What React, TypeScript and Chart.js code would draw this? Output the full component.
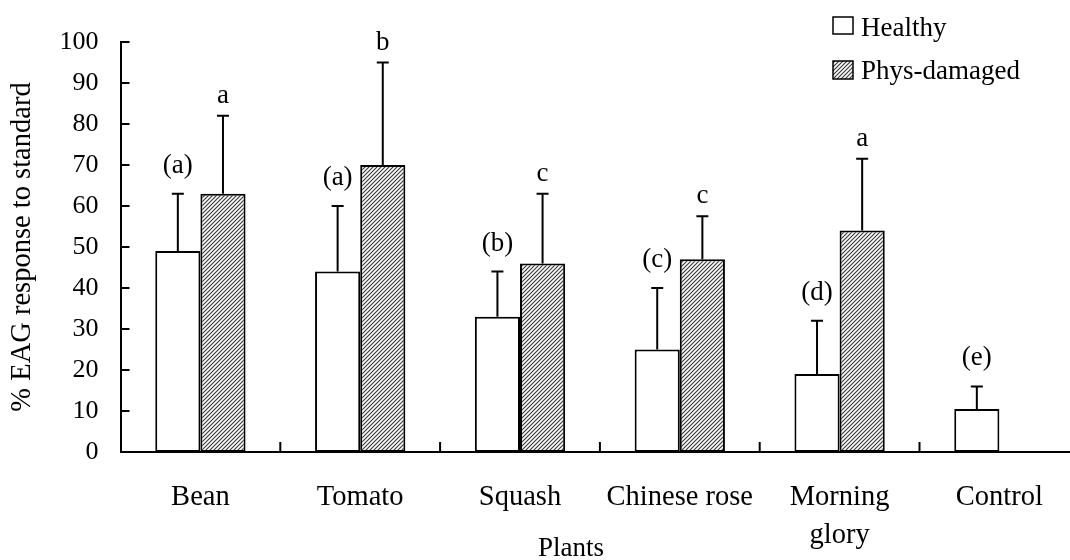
import React, { useEffect, useRef } from "react";
import { Chart, registerables } from "chart.js";

Chart.register(...registerables);

const categories: (string | string[])[] = ["Bean", "Tomato", "Squash", "Chinese rose", ["Morning", "glory"], "Control"];
const seriesNames = ["Healthy", "Phys-damaged"];
const healthy = [49, 44, 33, 25, 19, 10.5];
const healthyErr = [14, 16, 11, 15, 13, 5.5];
const damaged: (number | null)[] = [63, 70, 46, 47, 54, null];
const damagedErr: (number | null)[] = [19, 25, 17, 10.5, 17.5, null];
const healthyLetters = ["(a)", "(a)", "(b)", "(c)", "(d)", "(e)"];
const damagedLetters = ["a", "b", "c", "c", "a", ""];
const yMin = 0;
const yMax = 100;
const yStep = 10;
const yTitle = "% EAG response to standard";
const xTitle = "Plants";

const FONT = '"Liberation Serif", "Times New Roman", Times, serif';

function makeHatch(): CanvasPattern | string {
  const c = document.createElement("canvas");
  c.width = 4;
  c.height = 4;
  const g = c.getContext("2d");
  if (!g) return "#999";
  g.fillStyle = "#ffffff";
  g.fillRect(0, 0, 4, 4);
  g.strokeStyle = "#3a3a3a";
  g.lineWidth = 1.15;
  g.beginPath();
  g.moveTo(-1, 5);
  g.lineTo(5, -1);
  g.moveTo(-1, 1);
  g.lineTo(1, -1);
  g.moveTo(3, 5);
  g.lineTo(5, 3);
  g.stroke();
  return g.createPattern(c, "repeat") || "#999";
}

export default function App() {
  const ref = useRef<HTMLCanvasElement | null>(null);

  useEffect(() => {
    const canvas = ref.current;
    if (!canvas) return;
    const hatch = makeHatch();
    const errs = [healthyErr, damagedErr];
    const letters = [healthyLetters, damagedLetters];

    const overlay = {
      id: "overlay",
      afterDatasetsDraw(chart: any) {
        const ctx = chart.ctx as CanvasRenderingContext2D;
        const ys = chart.scales.y;
        ctx.save();
        ctx.strokeStyle = "#000";
        ctx.fillStyle = "#000";
        ctx.lineWidth = 2;
        chart.data.datasets.forEach((ds: any, di: number) => {
          const meta = chart.getDatasetMeta(di);
          meta.data.forEach((el: any, i: number) => {
            const v = ds.data[i];
            const e = errs[di][i];
            if (v == null || e == null) return;
            const yTop = ys.getPixelForValue(v + e);
            ctx.beginPath();
            ctx.moveTo(el.x, el.y);
            ctx.lineTo(el.x, yTop);
            ctx.moveTo(el.x - 6, yTop);
            ctx.lineTo(el.x + 6, yTop);
            ctx.stroke();
            const txt = letters[di][i];
            if (txt) {
              ctx.font = `27px ${FONT}`;
              ctx.textAlign = "center";
              ctx.textBaseline = "alphabetic";
              const off = txt.startsWith("(") ? 21 : 13;
              ctx.fillText(txt, el.x, yTop - off);
            }
          });
        });
        ctx.restore();
      },
      afterDraw(chart: any) {
        const ctx = chart.ctx as CanvasRenderingContext2D;
        const ys = chart.scales.y;
        const xs = chart.scales.x;
        const area = chart.chartArea;
        ctx.save();
        ctx.strokeStyle = "#000";
        ctx.lineWidth = 2;
        ctx.beginPath();
        for (let v = yMin; v <= yMax; v += yStep) {
          const y = Math.round(ys.getPixelForValue(v));
          ctx.moveTo(area.left, y);
          ctx.lineTo(area.left + 9, y);
        }
        for (let i = 1; i < categories.length; i++) {
          const x = (xs.getPixelForValue(i - 1) + xs.getPixelForValue(i)) / 2;
          ctx.moveTo(x, area.bottom);
          ctx.lineTo(x, area.bottom - 10);
        }
        ctx.stroke();
        ctx.fillStyle = "#000";
        ctx.font = `27px ${FONT}`;
        ctx.textAlign = "center";
        ctx.textBaseline = "alphabetic";
        ctx.fillText(xTitle, (area.left + area.right) / 2 - 29, 556);
        ctx.font = `27px ${FONT}`;
        ctx.textAlign = "left";
        const rows = [
          { y: 17, h: 17, base: 36, fill: "#ffffff" as any },
          { y: 61, h: 18, base: 79, fill: hatch as any },
        ];
        rows.forEach((r, i) => {
          ctx.fillStyle = r.fill;
          ctx.fillRect(833, r.y, 20, r.h);
          ctx.lineWidth = 1.5;
          ctx.strokeStyle = "#000";
          ctx.strokeRect(833, r.y, 20, r.h);
          ctx.fillStyle = "#000";
          ctx.fillText(chart.data.datasets[i].label, 861, r.base);
        });
        ctx.restore();
      },
    };

    const chart = new Chart(canvas, {
      type: "bar",
      data: {
        labels: categories as any,
        datasets: [
          {
            label: seriesNames[0],
            data: healthy,
            backgroundColor: "#ffffff",
            borderColor: "#000000",
            borderWidth: 2,
            borderSkipped: false,
          },
          {
            label: seriesNames[1],
            data: damaged,
            backgroundColor: hatch as any,
            borderColor: "#000000",
            borderWidth: 2,
            borderSkipped: false,
          },
        ],
      },
      options: {
        responsive: false,
        animation: false,
        layout: { padding: { left: 0, top: 42, right: 0.7, bottom: 0 } },
        datasets: { bar: { categoryPercentage: 0.565, barPercentage: 1 } },
        plugins: { legend: { display: false }, tooltip: { enabled: false } },
        scales: {
          x: {
            type: "category",
            offset: true,
            grid: { display: false, drawTicks: false },
            border: { display: true, color: "#000", width: 2 },
            ticks: {
              color: "#000",
              font: { family: FONT, size: 28.5, lineHeight: 1.33 },
              padding: 27,
              maxRotation: 0,
              autoSkip: false,
            },
            afterFit: (s: any) => {
              s.height = 108;
            },
          },
          y: {
            min: yMin,
            max: yMax,
            grid: { display: false, drawTicks: false },
            border: { display: true, color: "#000", width: 2 },
            ticks: {
              stepSize: yStep,
              color: "#000",
              font: { family: FONT, size: 26 },
              padding: 22,
            },
            title: {
              display: true,
              text: yTitle,
              color: "#000",
              font: { family: FONT, size: 28.5 },
              padding: { top: 5, bottom: 0 },
            },
            afterFit: (s: any) => {
              s.width = 120.5;
            },
          },
        },
      },
      plugins: [overlay],
    } as any);

    return () => chart.destroy();
  }, []);

  return (
    <div
      style={{
        position: "fixed",
        left: 0,
        top: 0,
        width: 1070,
        height: 560,
        overflow: "hidden",
        background: "#fff",
      }}
    >
      <canvas ref={ref} width={1080} height={560} style={{ display: "block" }} />
    </div>
  );
}
